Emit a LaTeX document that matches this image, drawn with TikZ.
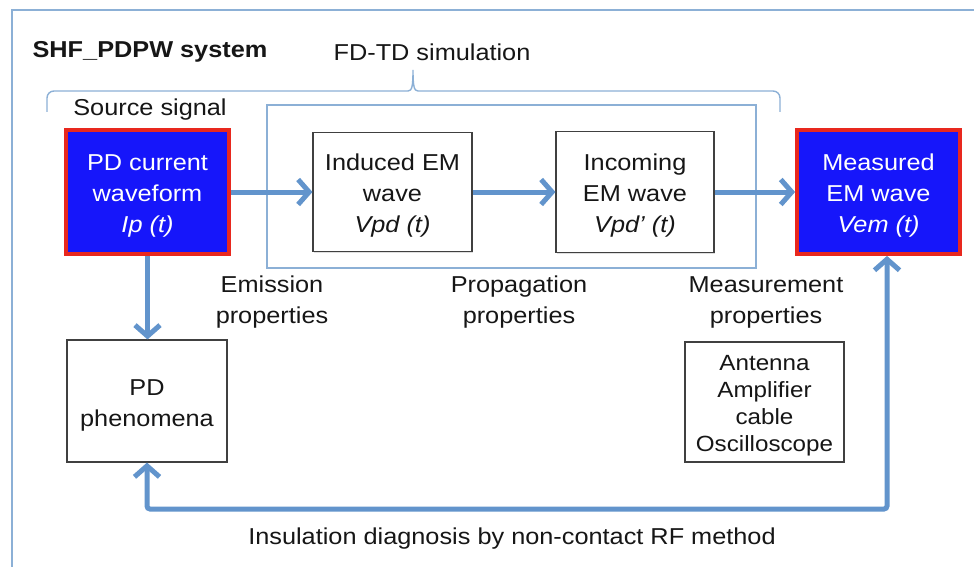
\documentclass[tikz,border=0pt]{standalone}
\usepackage{fontspec}
\setmainfont{Liberation Sans}[FakeStretch=1.1]
\usetikzlibrary{arrows.meta,shadows}
\definecolor{framec}{RGB}{140,176,214}
\definecolor{arrowc}{RGB}{98,148,204}
\definecolor{srcblue}{RGB}{22,22,250}
\definecolor{srcred}{RGB}{232,40,30}
\definecolor{txt}{RGB}{22,22,22}
\begin{document}
\begin{tikzpicture}[x=1pt,y=-1pt,
  every node/.style={text=txt},
  big/.style={font=\fontsize{23}{31}\selectfont},
  small/.style={font=\fontsize{22}{27}\selectfont},
  framel/.style={draw=framec,line width=1.4pt},
  wbox/.style={draw=black!75,line width=1.1pt,fill=white,inner sep=0pt,
    drop shadow={shadow xshift=1.2pt,shadow yshift=-1.2pt,opacity=0.25}},
  bbox/.style={draw=srcred,line width=3.8pt,fill=srcblue,inner sep=0pt},
  wtext/.style={big,align=center,inner sep=0pt},
  btext/.style={big,align=center,inner sep=0pt,text=white},
  arr/.style={draw=arrowc,line width=5pt,
    -{Straight Barb[length=11pt,width=25pt,line width=5pt]}},
  darr/.style={draw=arrowc,line width=5pt,rounded corners=3pt,
    {Straight Barb[length=11pt,width=25pt,line width=5pt]}-{Straight Barb[length=11pt,width=25pt,line width=5pt]}}]
\useasboundingbox (0,0) rectangle (974,567);
\fill[white] (0,0) rectangle (974,567);

% outer system frame
\draw[framel] (12,567) -- (12,10) -- (974,10);

% brace spanning the simulated part
\draw[framel,rounded corners=7pt] (47,112) -- (47,91) -- (408,91);
\draw[framel] (408,91) .. controls (412,91) and (413,86) .. (413,70)
  .. controls (413,86) and (414,91) .. (418,91);
\draw[framel,rounded corners=7pt] (418,91) -- (780,91) -- (780,112);

% FD-TD domain
\draw[framel] (267,105) rectangle (756,268);

% titles
\node[font=\fontsize{23}{31}\selectfont\bfseries] (title) at (150,52) {SHF\_PDPW system};
\node[big] (fdtd) at (432,52) {FD-TD simulation};
\node[big] (srcsig) at (150,110) {Source signal};

% blocks
\node[bbox,minimum width=163pt,minimum height=124pt] (src) at (147.5,192) {};
\node[btext] (srcT) at ([yshift=-4pt]src.center) {PD current\\waveform\\\textit{Ip (t)}};
\node[wbox,minimum width=159pt,minimum height=119pt] (ind) at (392.5,192) {};
\node[wtext] (indT) at ([yshift=-4pt]ind.center) {Induced EM\\wave\\\textit{Vpd (t)}};
\node[wbox,minimum width=158pt,minimum height=121pt] (inc) at (635,192) {};
\node[wtext] (incT) at ([yshift=-4pt]inc.center) {Incoming\\EM wave\\\textit{Vpd’ (t)}};
\node[bbox,minimum width=163pt,minimum height=124pt] (meas) at (878.5,192) {};
\node[btext] (measT) at ([yshift=-4pt]meas.center) {Measured\\EM wave\\\textit{Vem (t)}};
\node[wbox,minimum width=160pt,minimum height=122pt] (phen) at (147,401) {};
\node[wtext] (phenT) at ([yshift=-4pt]phen.center) {PD\\phenomena};
\node[wbox,minimum width=159pt,minimum height=120pt] (equip) at (764.5,402) {};
\node[wtext,small] (equipT) at ([yshift=-4pt]equip.center)
  {Antenna\\Amplifier\\cable\\Oscilloscope};

% property labels
\node[big,align=center] (emis) at (272,302) {Emission\\properties};
\node[big,align=center] (prop) at (519,302) {Propagation\\properties};
\node[big,align=center] (mprop) at (766,302) {Measurement\\properties};
\node[big] (diag) at (512,539) {Insulation diagnosis by non-contact RF method};

% signal chain
\draw[arr] (src.east) -- (ind.west);
\draw[arr] (ind.east) -- (inc.west);
\draw[arr] (inc.east) -- (meas.west);
\draw[arr] (src.south) -- (src.south |- phen.north);

% diagnosis loop
\coordinate (fbL) at (147,509);
\coordinate (fbR) at (887,509);
\draw[darr] (phen.south) -- (fbL) -- (fbR) -- (fbR |- meas.south);
\end{tikzpicture}
\end{document}
